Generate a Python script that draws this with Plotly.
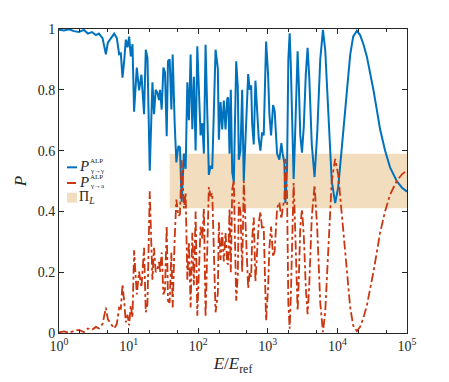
import plotly.graph_objects as go

# energy grid (E / E_ref)
energy = [
    1.00, 1.179, 1.391, 1.640, 1.934, 2.281, 2.604, 2.971, 3.389, 3.742,
    4.228, 4.714, 5.035, 5.559, 6.199, 6.776, 7.310, 7.731, 8.177, 8.677,
    9.119, 9.643, 10.17, 10.75, 11.37, 11.99, 13.11, 14.14, 15.30, 16.68,
    17.64, 18.66, 20.13, 22.00, 23.19, 24.53, 25.94, 27.35, 28.27, 29.90,
    31.62, 33.34, 35.27, 36.81, 38.93, 41.17, 42.98, 45.91, 48.56, 51.86,
    54.67, 57.83, 62.39, 65.99, 69.81, 73.59, 77.83, 82.31, 86.77, 91.78,
    97.08, 102.3, 108.2, 114.5, 120.7, 127.6, 135.0, 142.3, 150.5, 159.2,
    177.6, 191.5, 198.0, 209.4, 221.4, 233.5, 247.0, 261.2, 269.9, 281.8,
    294.1, 308.0, 324.7, 351.5, 370.6, 383.0, 405.1, 428.4, 451.6, 477.6,
    522.3, 550.6, 576.6, 595.9, 628.2, 664.3, 702.6, 740.6, 783.4, 828.5,
    873.5, 945.4, 1010, 1054, 1115, 1191, 1256, 1359, 1466, 1566,
    1635, 1729, 1787, 1890, 1973, 2060, 2142, 2229, 2350, 2445,
    2569, 2682, 2790, 2931, 3100, 3290, 3514, 3729, 3945, 4283,
    4698, 5136, 5670, 6199, 6688, 7384, 8286, 9300, 10270, 12110,
    13680, 15260, 16850, 19030, 21210, 23650, 26470, 29510, 32900, 36810,
    41050, 48390, 57070, 71200, 84800, 100000,
]

# photon survival probability
p_gg = [
    0.998, 0.995, 0.999, 0.993, 0.990, 0.997, 0.985, 0.990, 0.980, 0.985,
    0.970, 0.917, 0.955, 0.970, 0.985, 0.970, 0.917, 0.920, 0.840, 0.900,
    0.965, 0.940, 0.975, 0.910, 0.950, 0.728, 0.873, 0.798, 0.850, 0.720,
    0.932, 0.905, 0.534, 0.825, 0.720, 0.800, 0.790, 0.766, 0.800, 0.735,
    0.873, 0.857, 0.647, 0.894, 0.900, 0.735, 0.916, 0.690, 0.561, 0.615,
    0.610, 0.432, 0.590, 0.540, 0.825, 0.700, 0.916, 0.670, 0.843, 0.600,
    0.943, 0.800, 0.650, 0.690, 0.590, 0.948, 0.690, 0.520, 0.550, 0.540,
    0.932, 0.870, 0.636, 0.760, 0.670, 0.765, 0.670, 0.770, 0.775, 0.590,
    0.800, 0.529, 0.497, 0.894, 0.810, 0.570, 0.600, 0.800, 0.500, 0.640,
    0.852, 0.800, 0.815, 0.690, 0.620, 0.830, 0.740, 0.640, 0.600, 0.660,
    0.650, 0.959, 0.850, 0.720, 0.650, 0.750, 0.730, 0.590, 0.570, 0.625,
    0.590, 0.560, 0.427, 0.540, 0.900, 0.986, 0.880, 0.680, 0.507, 0.620,
    0.820, 0.927, 0.820, 0.650, 0.593, 0.680, 0.850, 0.938, 0.840, 0.620,
    0.513, 0.660, 0.900, 0.997, 0.930, 0.720, 0.500, 0.427, 0.480, 0.660,
    0.790, 0.915, 0.975, 0.994, 0.980, 0.950, 0.910, 0.860, 0.800, 0.735,
    0.670, 0.600, 0.545, 0.500, 0.478, 0.465,
]

# photon -> ALP conversion probability
p_ga = [
    0.002, 0.005, 0.001, 0.007, 0.010, 0.003, 0.015, 0.010, 0.020, 0.015,
    0.030, 0.083, 0.045, 0.030, 0.015, 0.030, 0.083, 0.080, 0.160, 0.100,
    0.035, 0.060, 0.025, 0.090, 0.050, 0.272, 0.127, 0.202, 0.150, 0.280,
    0.068, 0.095, 0.466, 0.175, 0.280, 0.200, 0.210, 0.234, 0.200, 0.265,
    0.127, 0.143, 0.353, 0.106, 0.100, 0.265, 0.084, 0.310, 0.439, 0.385,
    0.390, 0.568, 0.410, 0.460, 0.175, 0.300, 0.084, 0.330, 0.157, 0.400,
    0.057, 0.200, 0.350, 0.310, 0.410, 0.052, 0.310, 0.480, 0.450, 0.460,
    0.068, 0.130, 0.364, 0.240, 0.330, 0.235, 0.330, 0.230, 0.225, 0.410,
    0.200, 0.471, 0.503, 0.106, 0.190, 0.430, 0.400, 0.200, 0.500, 0.360,
    0.148, 0.200, 0.185, 0.310, 0.380, 0.170, 0.260, 0.360, 0.400, 0.340,
    0.350, 0.041, 0.150, 0.280, 0.350, 0.250, 0.270, 0.410, 0.430, 0.375,
    0.410, 0.440, 0.573, 0.460, 0.100, 0.014, 0.120, 0.320, 0.493, 0.380,
    0.180, 0.073, 0.180, 0.350, 0.407, 0.320, 0.150, 0.062, 0.160, 0.380,
    0.487, 0.340, 0.100, 0.003, 0.070, 0.280, 0.500, 0.573, 0.520, 0.340,
    0.210, 0.085, 0.025, 0.006, 0.020, 0.050, 0.090, 0.140, 0.200, 0.265,
    0.330, 0.400, 0.455, 0.500, 0.522, 0.535,
]

# Pi_L band
band_e = [39, 100000]
band_p = [0.41, 0.59]

x_tickvals = [1, 10, 100, 1000, 10000, 100000]
x_ticktext = ["10<sup>%d</sup>" % i for i in range(6)]
y_tickvals = [0, 0.2, 0.4, 0.6, 0.8, 1]
y_ticktext = ["0", "0.2", "0.4", "0.6", "0.8", "1"]

BLUE = "#0072BD"
RED = "#C9360F"
SHADE = "#F2DEBE"
INK = "#262626"
FONT = "Liberation Serif"

fig = go.Figure()

# shaded band (drawn first so the curves sit on top)
fig.add_trace(go.Scatter(
    x=[band_e[0], band_e[1], band_e[1], band_e[0], band_e[0]],
    y=[band_p[0], band_p[0], band_p[1], band_p[1], band_p[0]],
    mode="lines", fill="toself", fillcolor=SHADE,
    line=dict(width=0, color=SHADE),
    name="Π_L", hoverinfo="skip",
))
fig.add_trace(go.Scatter(
    x=energy, y=p_gg, mode="lines",
    line=dict(color=BLUE, width=2), name="P γ→γ",
))
fig.add_trace(go.Scatter(
    x=energy, y=p_ga, mode="lines",
    line=dict(color=RED, width=1.8, dash="dashdot"), name="P γ→a",
))

axis_common = dict(
    showline=True, linecolor=INK, linewidth=1, mirror="ticks",
    ticks="inside", ticklen=5, tickcolor=INK, showgrid=False,
    zeroline=False, tickfont=dict(family=FONT, size=14, color=INK),
)

fig.update_xaxes(
    type="log", range=[0, 5], tickvals=x_tickvals, ticktext=x_ticktext,
    minor=dict(ticks="inside", ticklen=3, tickcolor=INK, showgrid=False),
    title=dict(text="<i>E</i>/<i>E</i><sub>ref</sub>",
               font=dict(family=FONT, size=17, color=INK), standoff=4),
    **axis_common,
)
fig.update_yaxes(
    range=[0, 1], tickvals=y_tickvals, ticktext=y_ticktext,
    title=dict(text="<i>P</i>", font=dict(family=FONT, size=17, color=INK),
               standoff=6),
    **axis_common,
)

# hand-made legend so the super/subscripts can stack like in the original
leg_x0, leg_x1 = 0.023, 0.052
small = dict(family=FONT, size=7, color=INK)
rows = [
    dict(y=0.545, color=BLUE, dash="solid", sub="γ→γ"),
    dict(y=0.4935, color=RED, dash="dashdot", sub="γ→a"),
]
for r in rows:
    fig.add_shape(type="line", xref="paper", yref="paper",
                  x0=leg_x0, x1=leg_x1, y0=r["y"], y1=r["y"],
                  line=dict(color=r["color"], width=2, dash=r["dash"]))
    fig.add_annotation(xref="paper", yref="paper", x=0.055, y=r["y"] + 0.003,
                       text="<i>P</i>", showarrow=False, xanchor="left",
                       yanchor="middle", borderpad=0,
                       font=dict(family=FONT, size=15, color=INK))
    fig.add_annotation(xref="paper", yref="paper", x=0.085, y=r["y"] + 0.0194,
                       text="ALP", showarrow=False, xanchor="left",
                       yanchor="middle", borderpad=0, font=small)
    fig.add_annotation(xref="paper", yref="paper", x=0.085, y=r["y"] - 0.0113,
                       text=r["sub"], showarrow=False, xanchor="left",
                       yanchor="middle", borderpad=0, font=small)
fig.add_shape(type="rect", xref="paper", yref="paper",
              x0=leg_x0, x1=leg_x1, y0=0.429, y1=0.4613,
              fillcolor=SHADE, line=dict(width=0))
fig.add_annotation(xref="paper", yref="paper", x=0.055, y=0.446,
                   text="Π<sub><i>L</i></sub>", showarrow=False, xanchor="left",
                   yanchor="middle", borderpad=0,
                   font=dict(family=FONT, size=14, color=INK))

# the page adds an 8px body margin, so the figure is 8px smaller each way
fig.update_layout(
    width=441, height=374,
    margin=dict(l=50, r=42, t=21, b=43),
    paper_bgcolor="white", plot_bgcolor="white",
    showlegend=False,
)

fig.write_html("out.html")
